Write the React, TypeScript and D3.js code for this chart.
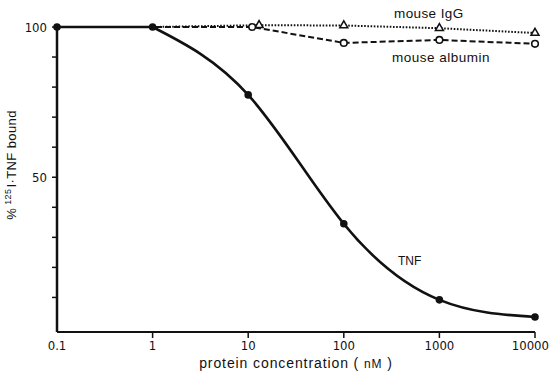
import React from "react";
import * as d3 from "d3";

const xTickValues = [0.1, 1, 10, 100, 1000, 10000];
const xTickLabels = ["0.1", "1", "10", "100", "1000", "10000"];
const yTickValues = [10, 20, 30, 40, 50, 60, 70, 80, 90, 100];
const yTickLabels = [
  { v: 100, t: "100" },
  { v: 50, t: "50" },
];

const tnfConc = [0.1, 1, 10, 100, 1000, 10000];
const tnfBound = [100, 100, 77.4, 34.5, 9.2, 3.5];

const albuminConc = [0.1, 1, 11, 100, 1000, 10000];
const albuminBound = [100, 100, 100, 94.7, 95.7, 94.4];

const iggConc = [0.1, 1, 13, 100, 1000, 10000];
const iggBound = [100, 100, 100.6, 100.5, 99.6, 98];

const W = 551;
const H = 384;

export default function App() {
  const x = d3.scaleLog().domain([0.1, 10000]).range([57, 535]);
  const y = d3.scaleLinear().domain([-1.5, 100]).range([332, 27]);

  const tnf = tnfConc.map((c, i) => [c, tnfBound[i]] as [number, number]);
  const alb = albuminConc.map((c, i) => [c, albuminBound[i]] as [number, number]);
  const igg = iggConc.map((c, i) => [c, iggBound[i]] as [number, number]);

  const linLine = d3
    .line<[number, number]>()
    .x((d) => x(d[0]))
    .y((d) => y(d[1]));
  const curveLine = d3
    .line<[number, number]>()
    .x((d) => x(d[0]))
    .y((d) => y(d[1]))
    .curve(d3.curveNatural);

  const tri = d3.symbol().type(d3.symbolTriangle).size(28)() as string;
  const tickFont = "'Liberation Sans Narrow', 'DejaVu Sans Condensed', 'Liberation Sans', Arial, sans-serif";
  const font = "'Liberation Sans', Arial, sans-serif";
  const ink = "#111";

  return (
    <svg
      width={W}
      height={H}
      style={{ position: "absolute", left: 0, top: 0, background: "#fff" }}
    >
      <rect x={0} y={0} width={W} height={H} fill="#fff" />
      {/* axes */}
      <line x1={x(0.1)} x2={x(10000)} y1={y(-1.5)} y2={y(-1.5)} stroke={ink} strokeWidth={2} />
      <line x1={x(0.1)} x2={x(0.1)} y1={y(100)} y2={y(-1.5)} stroke={ink} strokeWidth={2.5} />
      {xTickValues.slice(1).map((v) => (
        <line key={"xt" + v} x1={x(v)} x2={x(v)} y1={y(-1.5)} y2={y(-1.5) + 6} stroke={ink} strokeWidth={1.5} />
      ))}
      {xTickValues.map((v, i) => {
        const last = i === xTickValues.length - 1;
        return (
          <text
            key={"xl" + v}
            x={last ? 549 : x(v)}
            y={350}
            textAnchor={last ? "end" : "middle"}
            fontSize={13}
            fontFamily={tickFont}
            fill={ink}
          >
            {xTickLabels[i]}
          </text>
        );
      })}
      {yTickValues.map((v) => (
        <line key={"yt" + v} x1={x(0.1) - 5} x2={x(0.1)} y1={y(v)} y2={y(v)} stroke={ink} strokeWidth={1.5} />
      ))}
      {yTickLabels.map((d) => (
        <text
          key={"yl" + d.v}
          x={47}
          y={y(d.v)}
          dy="0.36em"
          textAnchor="end"
          fontSize={13}
          fontFamily={tickFont}
          fill={ink}
        >
          {d.t}
        </text>
      ))}
      <text x={296} y={368} textAnchor="middle" fontSize={14} letterSpacing={0.9} fontFamily={font} fill={ink}>
        protein concentration ( <tspan fontSize={12}>nM</tspan> )
      </text>
      <text
        transform={`translate(16,165) rotate(-90)`}
        textAnchor="middle"
        fontSize={13}
        letterSpacing={0.4}
        fontFamily={font}
        fill={ink}
      >
        %
        <tspan dx={3} fontSize={9} dy={-5}>125</tspan>
        <tspan dx={1} dy={5}>I·TNF bound</tspan>
      </text>

      {/* IgG dotted */}
      <path d={linLine(igg) as string} fill="none" stroke={ink} strokeWidth={2} strokeDasharray="1.6,1.6" />
      {/* albumin dashed */}
      <path d={linLine(alb) as string} fill="none" stroke={ink} strokeWidth={2} strokeDasharray="6,3" />
      {/* TNF */}
      <path d={linLine(tnf.slice(0, 2)) as string} fill="none" stroke={ink} strokeWidth={2.6} />
      <path d={curveLine(tnf.slice(1)) as string} fill="none" stroke={ink} strokeWidth={2.6} />

      {igg.slice(2).map((d, i) => (
        <path
          key={"ig" + i}
          d={tri}
          transform={`translate(${x(d[0])},${y(d[1])})`}
          fill="#fff"
          stroke={ink}
          strokeWidth={1.5}
        />
      ))}
      {alb.slice(2).map((d, i) => (
        <circle key={"al" + i} cx={x(d[0])} cy={y(d[1])} r={3.3} fill="#fff" stroke={ink} strokeWidth={1.6} />
      ))}
      {tnf.map((d, i) => (
        <circle key={"tn" + i} cx={x(d[0])} cy={y(d[1])} r={3.8} fill={ink} />
      ))}

      <text x={394} y={18} fontSize={13.5} letterSpacing={0.4} fontFamily={font} fill={ink}>mouse IgG</text>
      <text x={392} y={62} fontSize={13.5} letterSpacing={0.5} fontFamily={font} fill={ink}>mouse albumin</text>
      <text x={398} y={265} fontSize={12} fontFamily={font} fill={ink}>TNF</text>
    </svg>
  );
}
